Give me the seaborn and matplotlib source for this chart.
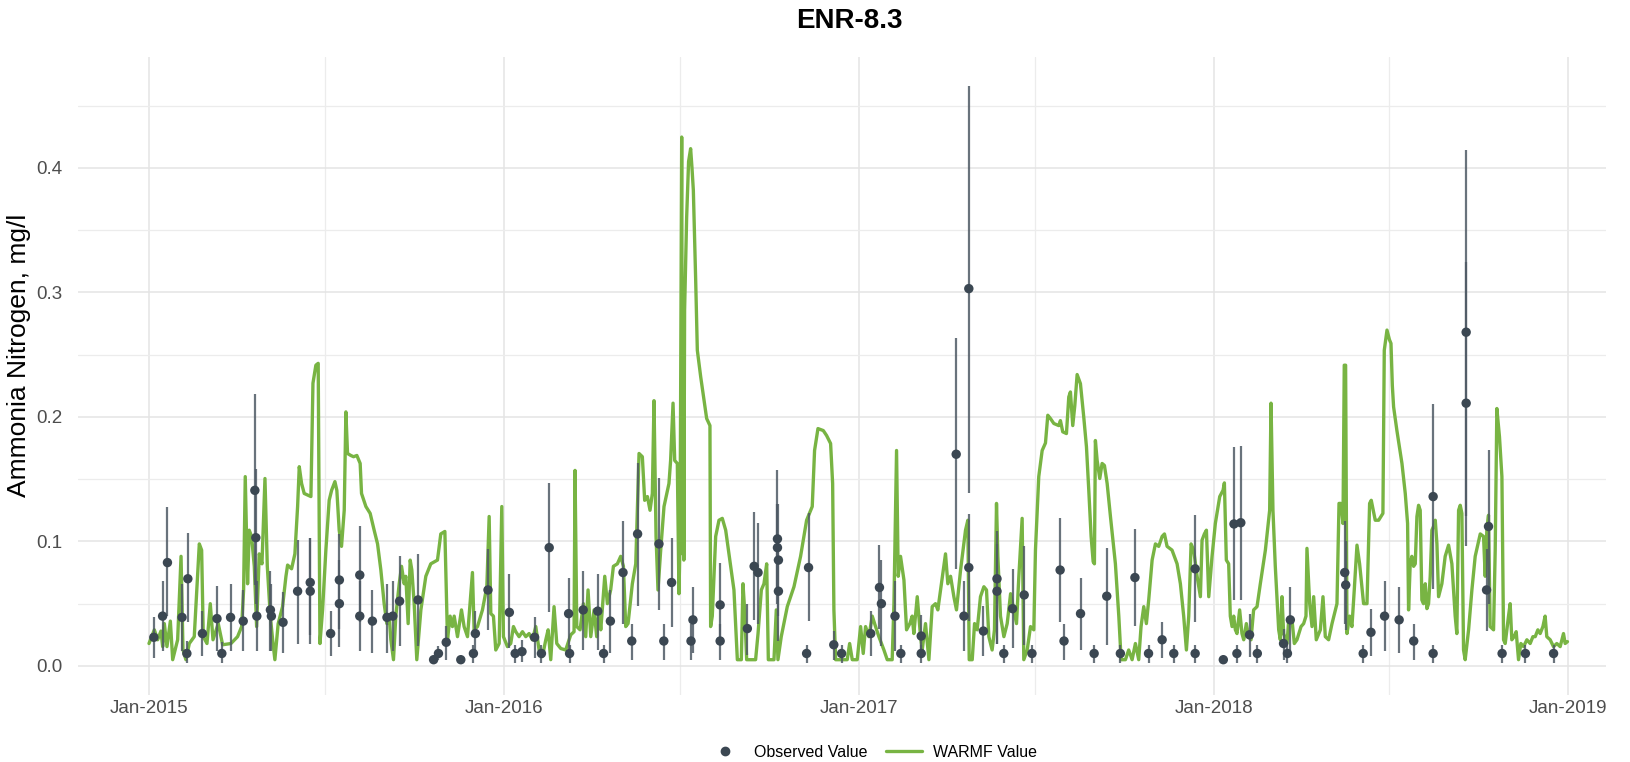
import pandas as pd
import matplotlib.pyplot as plt
import matplotlib.dates as mdates
from matplotlib.lines import Line2D
import seaborn as sns

start = pd.Timestamp("2015-01-01")

# WARMF simulated series: days since 2015-01-01 and value (mg/l)
warmf_day = [
    0, 5.5, 8.9, 12.3, 14.1, 15.8, 18.5, 22, 24.4, 29.5, 33, 35, 38, 41.5, 46.6, 51.8, 54.2, 55.9,
    59.7, 63.1, 65.9, 71.3, 75.8, 84.4, 91.2, 95.4, 97.4, 99.1, 101.5, 103.2, 105.6, 108.4, 110.8,
    113.5, 116.3, 119.4, 121.8, 124.9, 127.3, 129.6, 133, 137.5, 141, 142.7, 146.8, 150.2, 153,
    154.7, 157.1, 159.8, 166.7, 168.8, 171.8, 174.2,
    176, 178.7, 182.1, 185.5, 188, 191.4, 193.4, 195.8, 198.2, 201, 202.7, 204.4, 207.8, 210.6, 214,
    217.4, 218.8, 223.3, 227.7, 231.8, 235.3, 238.7, 242.1, 244.9, 247.3, 249, 251.7, 254.1, 257.6,
    260, 262.7, 264.4, 266.8, 268.9, 270.6, 273, 275.7, 279.9, 285, 290.1, 297, 300.4, 304.6, 305.9,
    307.3, 310, 312.4, 314.2, 317.6, 321.7, 324.4, 327.9, 333, 334.7, 338.2, 343.3, 347.8, 350.2,
    351.9, 354.6, 357, 360.5,
    363.2, 364.9, 369, 372.4, 375.2, 377.6, 381, 384.5, 387.9, 391.3, 394.7, 398.2, 401.6, 405,
    408.5, 410.9, 413.6, 417, 419.8, 423.9, 429, 434.2, 437.6, 438.6, 440.4, 443.8, 447.2, 449.6,
    452, 454.8, 458.2, 460.9, 463.3, 465.1, 469.2, 471.9, 475.3, 478.1, 482.2, 485.6, 488.4, 490.8,
    493.2, 497.6, 501.1, 504.5, 507.9, 510.3, 513.1, 515.8, 518.2, 519.9, 522, 524, 526.8, 530.2,
    535.3, 537, 539.5, 541.2, 543.9, 545.6,
    546.7, 548.4, 549.3, 550.0, 550.6, 551.4, 553.5, 555.5, 557.6, 559, 560.4, 562.8, 564.5,
    568, 571.4, 574.1, 577.5, 578.2, 579.9, 583.4, 586.8, 590.2, 593.7, 598.8, 602.2, 605.7, 609.8,
    611.5, 613.2, 615.3, 624.5, 627, 630.4, 633.1, 635.9, 637.6, 643.4, 645.8, 647.5, 650.9, 657.1,
    664, 670.8, 677, 682.8, 685.2, 688.7, 694.2, 697.6, 701.7, 703.8, 705.1, 706.9, 718.8, 721.3,
    724, 729.1,
    732.6, 735.3, 737.7, 741.1, 744.6, 748, 751.4, 756.6, 760, 765.1, 766.9, 769.6, 771.3, 773.7,
    777.2, 779.9, 783.3, 785.7, 787.4, 790.9, 794.3, 796, 799.4, 802.9, 806.3, 809.7, 812.1, 814.9,
    820, 822.4, 825.2, 828.6, 831.3, 835.5, 840.6, 843, 844.4, 847.5, 849.9, 852.6, 856, 859.5,
    862.2, 864.6, 868, 870.4, 872.5, 873.9, 876.6, 880.1, 883.5, 887, 890.3, 893.1, 895.5, 898.9,
    900.6, 904.1, 907.5, 910.9,
    912.6, 916.0, 919.5, 922.9, 925.3, 928, 931.5, 936.6, 938.3, 940.7, 944.5, 946.9, 948.6, 951,
    953.1, 955.5, 958.9, 962.3, 965.1, 967.5, 969.9, 972, 973.3, 974.3, 976.1, 978.8, 981.2, 983.6,
    986.4, 989.8, 994.9, 998.4, 1000.8, 1005.2, 1008.6, 1012.1, 1015.5, 1018.9, 1021.3, 1024.1,
    1026.8, 1029.2, 1032.7, 1036.1, 1039.5, 1043, 1045.4, 1048.1, 1053.2, 1058.4, 1061.8, 1065.2,
    1068, 1070.4, 1072.8, 1075.5, 1079, 1082.4, 1084.1, 1086.5, 1088.6, 1091, 1094.4, 1097.8, 1102.3,
    1105.7, 1107.1, 1109.1, 1111.5, 1113.2, 1115, 1116.7, 1118.4, 1120.1, 1122.8, 1125.2, 1127,
    1129.7, 1132.1, 1134.5, 1137.2, 1140.7, 1144.1, 1149.3, 1153.7, 1155.1, 1157.1, 1159.5, 1163,
    1164.7, 1166.4, 1168.1, 1171.6, 1173.3, 1176.7, 1179.1, 1181.8, 1186, 1188.7, 1191.1, 1192.1,
    1194.9, 1197.3, 1199, 1201.7, 1205.9, 1208.6, 1211, 1214.4, 1217.9, 1223, 1225.1, 1227.1,
    1229.2, 1230.5, 1231.9, 1233.3, 1236, 1238.4, 1240.8, 1243.6, 1246.3, 1250.4, 1253.9, 1256.6,
    1258.3, 1262.4, 1265.9, 1270.3, 1271.7, 1274.5, 1277, 1278.6, 1280,
    1281.3, 1284.7, 1289.9, 1293.3, 1295.7, 1296.7, 1298.4, 1300.1, 1301.9, 1303.6, 1305.3, 1307,
    1308.7, 1310.4, 1312.1, 1313.9, 1315.6, 1317.3, 1319, 1320.7, 1322.4, 1324.2, 1325.9, 1327.6,
    1331, 1334.4, 1337.9, 1341.3, 1344.7, 1346.4, 1348.2, 1349.9, 1351.6, 1353.3, 1355, 1358.5,
    1361.9, 1365.3, 1370.5, 1373.9, 1375.6, 1377.3, 1379, 1380.7, 1384.2, 1385.9, 1387.6, 1390.3,
    1392.8, 1394.5, 1396.2, 1399.6, 1401.3, 1403, 1405.4, 1407.5, 1409.9, 1412.3, 1415.1, 1418.5,
    1421.9, 1424.7, 1427.1, 1429.8, 1432.2, 1435, 1437.3, 1439, 1442.5, 1445.9, 1449.3, 1452.8,
    1456.2, 1457.9, 1460.3,
]
warmf_val = [
    0.018, 0.029, 0.021, 0.028, 0.0155, 0.034, 0.0155, 0.036, 0.005, 0.021, 0.088, 0.013, 0.005,
    0.018, 0.0235, 0.098, 0.093, 0.0235, 0.018, 0.050, 0.021, 0.034, 0.017, 0.018, 0.0235, 0.0316,
    0.061, 0.152, 0.066, 0.109, 0.104, 0.080, 0.0316, 0.090, 0.082, 0.1505, 0.080, 0.040, 0.021,
    0.005, 0.034, 0.0476, 0.072, 0.081, 0.078, 0.090, 0.128, 0.160, 0.1465, 0.1385, 0.136, 0.227,
    0.2415, 0.243,
    0.018, 0.045, 0.093, 0.133, 0.141, 0.148, 0.141, 0.109, 0.096, 0.125, 0.204, 0.1706, 0.169,
    0.168, 0.169, 0.1626, 0.1385, 0.128, 0.1225, 0.109, 0.098, 0.077, 0.050, 0.034, 0.040, 0.021,
    0.005, 0.040, 0.066, 0.080, 0.066, 0.072, 0.034, 0.085, 0.077, 0.050, 0.005, 0.045, 0.072,
    0.082, 0.085, 0.106, 0.108, 0.066, 0.021, 0.040, 0.0316, 0.040, 0.0235, 0.045, 0.0316, 0.0235,
    0.075, 0.029, 0.0316, 0.045, 0.0636, 0.120, 0.042, 0.040, 0.0128, 0.018,
    0.128, 0.0235, 0.0155, 0.018, 0.0316, 0.0275, 0.0235, 0.0275, 0.0235, 0.026, 0.021, 0.0316,
    0.0128, 0.0075, 0.021, 0.029, 0.005, 0.0476, 0.018, 0.014, 0.0128, 0.025, 0.0275, 0.157, 0.0316,
    0.029, 0.050, 0.0235, 0.061, 0.0235, 0.045, 0.0235, 0.045, 0.029, 0.072, 0.050, 0.061, 0.080,
    0.082, 0.088, 0.080, 0.0316, 0.034, 0.066, 0.082, 0.1706, 0.168, 0.133, 0.136, 0.125, 0.1385,
    0.213, 0.104, 0.061, 0.093, 0.128, 0.1465, 0.165, 0.211, 0.165, 0.1626, 0.058,
    0.10, 0.4247, 0.09, 0.30, 0.085, 0.2857, 0.36, 0.405, 0.4154, 0.40, 0.382, 0.31, 0.2535,
    0.232, 0.2134, 0.1987, 0.193, 0.0316, 0.040, 0.104, 0.117, 0.1185, 0.109, 0.080, 0.061, 0.005,
    0.005, 0.066, 0.045, 0.005, 0.005, 0.026, 0.061, 0.066, 0.082, 0.005, 0.005, 0.045, 0.005,
    0.0235, 0.0476, 0.0636, 0.088, 0.117, 0.128, 0.173, 0.1906, 0.189, 0.185, 0.1786, 0.1465, 0.045,
    0.005, 0.005, 0.018, 0.005, 0.005,
    0.0316, 0.010, 0.0316, 0.0235, 0.040, 0.0316, 0.0235, 0.0128, 0.005, 0.005, 0.050, 0.173,
    0.072, 0.088, 0.069, 0.029, 0.034, 0.040, 0.026, 0.0556, 0.0235, 0.0128, 0.034, 0.005, 0.0476,
    0.050, 0.045, 0.061, 0.090, 0.066, 0.072, 0.0556, 0.045, 0.077, 0.109, 0.117, 0.005, 0.005,
    0.034, 0.029, 0.0556, 0.0636, 0.061, 0.0235, 0.0128, 0.029, 0.1305, 0.088, 0.040, 0.0235, 0.034,
    0.058, 0.045, 0.034, 0.072, 0.1185, 0.005, 0.0128, 0.0316, 0.029,
    0.093, 0.152, 0.173, 0.179, 0.2013, 0.1987, 0.1947, 0.193, 0.197, 0.188, 0.1866, 0.216, 0.220,
    0.193, 0.209, 0.234, 0.2267, 0.200, 0.176, 0.141, 0.104, 0.0837, 0.082, 0.181, 0.165, 0.1505,
    0.1626, 0.161, 0.1465, 0.120, 0.082, 0.040, 0.005, 0.005, 0.0128, 0.005, 0.018, 0.005, 0.0316,
    0.0476, 0.034, 0.053, 0.085, 0.098, 0.096, 0.104, 0.106, 0.096, 0.093, 0.082, 0.066, 0.040,
    0.0128, 0.040, 0.098, 0.093, 0.072, 0.0556, 0.101, 0.106, 0.109, 0.0556, 0.088, 0.1145, 0.136,
    0.141, 0.147, 0.085, 0.082, 0.040, 0.0316, 0.040, 0.029, 0.026, 0.045, 0.026, 0.021, 0.034,
    0.0235, 0.021, 0.045, 0.0476, 0.066, 0.093, 0.125, 0.211, 0.125, 0.080, 0.029, 0.021, 0.0556,
    0.026, 0.018, 0.037, 0.037, 0.018, 0.021, 0.0316, 0.034, 0.040, 0.0944, 0.050, 0.0316, 0.0556,
    0.021, 0.029, 0.0556, 0.0235, 0.021, 0.034, 0.050, 0.1305, 0.1305, 0.1144, 0.2415, 0.2415,
    0.026, 0.040, 0.0316, 0.061, 0.097, 0.082, 0.050, 0.050, 0.1305, 0.133, 0.117, 0.117, 0.1225,
    0.2535, 0.2697, 0.262, 0.259, 0.225,
    0.208, 0.189, 0.1626, 0.1385, 0.1144, 0.045, 0.082, 0.088, 0.080, 0.082, 0.120, 0.129, 0.125,
    0.053, 0.050, 0.066, 0.046, 0.050, 0.072, 0.109, 0.112, 0.117, 0.098, 0.0556, 0.066, 0.088,
    0.097, 0.082, 0.040, 0.026, 0.125, 0.129, 0.1225, 0.0128, 0.005, 0.029, 0.061, 0.088, 0.106,
    0.104, 0.072, 0.109, 0.121, 0.0316, 0.029, 0.093, 0.2067, 0.184, 0.152, 0.021, 0.018, 0.040,
    0.050, 0.021, 0.0235, 0.0275, 0.005, 0.018, 0.0155, 0.021, 0.018, 0.0235, 0.0235, 0.029, 0.026,
    0.0316, 0.040, 0.0235, 0.021, 0.0155, 0.018, 0.0155, 0.026, 0.018, 0.0195,
]

# Observed samples: days since 2015-01-01, value and error bar ends
obs_day = [
    5, 14, 19, 34, 39, 40, 55, 70, 75, 84, 97, 109, 110, 111, 125, 126, 138, 153, 166, 166,
    187, 196, 196, 217, 217, 230, 245, 251, 258, 277, 293, 298, 306, 321, 334, 336, 349,
    371, 377, 384, 397, 404, 412, 432, 433, 447, 462, 468, 475, 488, 497, 503, 525, 530, 538,
    558, 560, 588, 588, 616, 623, 627, 647, 647, 648, 648, 677, 679, 705, 713,
    743, 752, 754, 768, 774, 795, 795, 831, 839, 844, 844, 859, 873, 873, 880, 889, 901, 909,
    938, 942, 959, 973, 986, 1000, 1015, 1029, 1043, 1055, 1077, 1077,
    1106, 1117, 1120, 1124, 1133, 1141, 1168, 1172, 1175, 1231, 1232, 1250, 1258, 1272, 1287,
    1302, 1322, 1322, 1356, 1356, 1377, 1379, 1393, 1417, 1446,
]
obs_val = [
    0.023, 0.040, 0.083, 0.039, 0.010, 0.070, 0.026, 0.038, 0.010, 0.039, 0.036, 0.141, 0.103,
    0.040, 0.045, 0.040, 0.035, 0.060, 0.060, 0.067,
    0.026, 0.069, 0.050, 0.073, 0.040, 0.036, 0.039, 0.040, 0.052, 0.053, 0.005, 0.010, 0.019,
    0.005, 0.010, 0.026, 0.061,
    0.043, 0.010, 0.0115, 0.023, 0.010, 0.095, 0.042, 0.010, 0.045, 0.044, 0.010, 0.036, 0.075,
    0.020, 0.106, 0.098, 0.020, 0.067,
    0.020, 0.037, 0.049, 0.020, 0.030, 0.080, 0.075, 0.102, 0.095, 0.085, 0.060, 0.010, 0.079,
    0.017, 0.010,
    0.026, 0.063, 0.050, 0.040, 0.010, 0.024, 0.010, 0.170, 0.040, 0.303, 0.079, 0.028, 0.070,
    0.060, 0.010, 0.046, 0.057, 0.010,
    0.077, 0.020, 0.042, 0.010, 0.056, 0.010, 0.071, 0.010, 0.021, 0.010, 0.078, 0.010,
    0.005, 0.114, 0.010, 0.115, 0.025, 0.010, 0.018, 0.010, 0.037, 0.075, 0.065, 0.010, 0.027,
    0.040, 0.037,
    0.020, 0.010, 0.136, 0.268, 0.211, 0.061, 0.112, 0.010, 0.010, 0.010,
]
obs_low = [
    0.006, 0.012, 0.040, 0.012, 0.002, 0.035, 0.008, 0.012, 0.002, 0.012, 0.012, 0.065, 0.050,
    0.012, 0.012, 0.012, 0.010, 0.018, 0.018, 0.025,
    0.008, 0.030, 0.015, 0.035, 0.012, 0.010, 0.010, 0.012, 0.016, 0.016, 0.005, 0.005, 0.005,
    0.005, 0.002, 0.009, 0.029,
    0.014, 0.002, 0.003, 0.006, 0.002, 0.043, 0.013, 0.002, 0.013, 0.013, 0.002, 0.010, 0.034,
    0.005, 0.048, 0.045, 0.005, 0.031,
    0.005, 0.010, 0.020, 0.005, 0.009, 0.037, 0.034, 0.050, 0.060, 0.040, 0.020, 0.002, 0.036,
    0.005, 0.002,
    0.008, 0.030, 0.016, 0.012, 0.002, 0.010, 0.002, 0.078, 0.012, 0.139, 0.036, 0.008, 0.018,
    0.018, 0.002, 0.014, 0.017, 0.002,
    0.035, 0.005, 0.013, 0.002, 0.017, 0.002, 0.032, 0.002, 0.006, 0.002, 0.035, 0.002,
    0.005, 0.053, 0.002, 0.053, 0.0075, 0.002, 0.005, 0.002, 0.010, 0.034, 0.029, 0.002, 0.008,
    0.012, 0.010,
    0.005, 0.002, 0.0615, 0.120, 0.096, 0.028, 0.050, 0.002, 0.002, 0.002,
]
obs_high = [
    0.039, 0.068, 0.128, 0.066, 0.020, 0.107, 0.044, 0.064, 0.019, 0.066, 0.061, 0.218, 0.158,
    0.068, 0.076, 0.066, 0.059, 0.101, 0.103, 0.103,
    0.044, 0.106, 0.085, 0.112, 0.068, 0.061, 0.066, 0.068, 0.088, 0.090, 0.005, 0.016, 0.032,
    0.005, 0.017, 0.044, 0.094,
    0.074, 0.017, 0.021, 0.039, 0.017, 0.147, 0.071, 0.017, 0.076, 0.074, 0.017, 0.061, 0.116,
    0.034, 0.163, 0.151, 0.034, 0.103,
    0.034, 0.063, 0.083, 0.034, 0.050, 0.124, 0.115, 0.157, 0.130, 0.130, 0.100, 0.017, 0.123,
    0.028, 0.017,
    0.044, 0.097, 0.085, 0.068, 0.017, 0.041, 0.017, 0.263, 0.068, 0.466, 0.122, 0.048, 0.108,
    0.098, 0.017, 0.078, 0.096, 0.017,
    0.119, 0.034, 0.071, 0.017, 0.095, 0.017, 0.110, 0.017, 0.035, 0.017, 0.121, 0.017,
    0.005, 0.176, 0.017, 0.177, 0.042, 0.017, 0.030, 0.017, 0.063, 0.116, 0.100, 0.017, 0.0455,
    0.068, 0.063,
    0.034, 0.017, 0.210, 0.414, 0.324, 0.094, 0.173, 0.017, 0.017, 0.017,
]

year_ticks = ["2015-01-01", "2016-01-01", "2017-01-01", "2018-01-01", "2019-01-01"]
half_ticks = ["2015-07-01", "2016-07-01", "2017-07-01", "2018-07-01"]

warmf = pd.DataFrame({"date": start + pd.to_timedelta(warmf_day, unit="D"), "value": warmf_val})
obs = pd.DataFrame({
    "date": start + pd.to_timedelta(obs_day, unit="D"),
    "value": obs_val,
    "low": obs_low,
    "high": obs_high,
})

sns.set_theme(style="whitegrid")
plt.rcParams["font.family"] = ["Liberation Sans", "DejaVu Sans"]

green = "#78b443"
slate = "#3b4752"

fig = plt.figure(figsize=(16.3, 7.62), dpi=100)
ax = fig.add_axes([0.0479, 0.088, 0.9374, 0.8377])

sns.lineplot(data=warmf, x="date", y="value", color=green, linewidth=2.4, sort=False,
             ax=ax, zorder=3)
ax.vlines(obs["date"], obs["low"], obs["high"], color="#4f5a65", linewidth=1.6, alpha=0.85,
          zorder=4)
sns.scatterplot(data=obs, x="date", y="value", color=slate, s=46, edgecolor="none", ax=ax,
                zorder=5)

ax.set_xlim(start - pd.Timedelta(days=73), start + pd.Timedelta(days=1500))
ax.set_ylim(-0.0233, 0.4893)

ax.set_xticks(pd.to_datetime(year_ticks))
ax.set_xticks(pd.to_datetime(half_ticks), minor=True)
ax.xaxis.set_major_formatter(mdates.DateFormatter("%b-%Y"))
ax.set_yticks([0.0, 0.1, 0.2, 0.3, 0.4])
ax.set_yticks([0.05, 0.15, 0.25, 0.35, 0.45], minor=True)
ax.set_yticklabels(["0.0", "0.1", "0.2", "0.3", "0.4"])

ax.grid(which="major", color="#e4e4e4", linewidth=1.1)
ax.grid(which="minor", color="#ececec", linewidth=0.9)
ax.set_axisbelow(True)
for side in ax.spines.values():
    side.set_visible(False)
ax.tick_params(axis="both", which="both", length=0, labelsize=13.5, labelcolor="#4d4d4d")
ax.tick_params(axis="x", pad=4)
ax.tick_params(axis="y", pad=11)

ax.set_xlabel("")
ax.set_ylabel("")
fig.text(0.0115, 0.5335, "Ammonia Nitrogen, mg/l", rotation=90, ha="center", va="center",
         fontsize=19, color="black")
fig.text(0.521, 0.9629, "ENR-8.3", ha="center", va="baseline", fontsize=20, fontweight="bold",
         color="black")

handles = [
    Line2D([], [], marker="o", linestyle="none", color=slate, markersize=6),
    Line2D([], [], color=green, linewidth=2.4),
]
leg = fig.legend(handles, ["Observed Value", "WARMF Value"], loc="center",
                 bbox_to_anchor=(0.535, 0.0125), ncol=2, frameon=False, fontsize=11.5,
                 handlelength=2.2, columnspacing=1.2, handletextpad=0.7)
for t in leg.get_texts():
    t.set_color("black")

fig.savefig("out.png", dpi=100)
